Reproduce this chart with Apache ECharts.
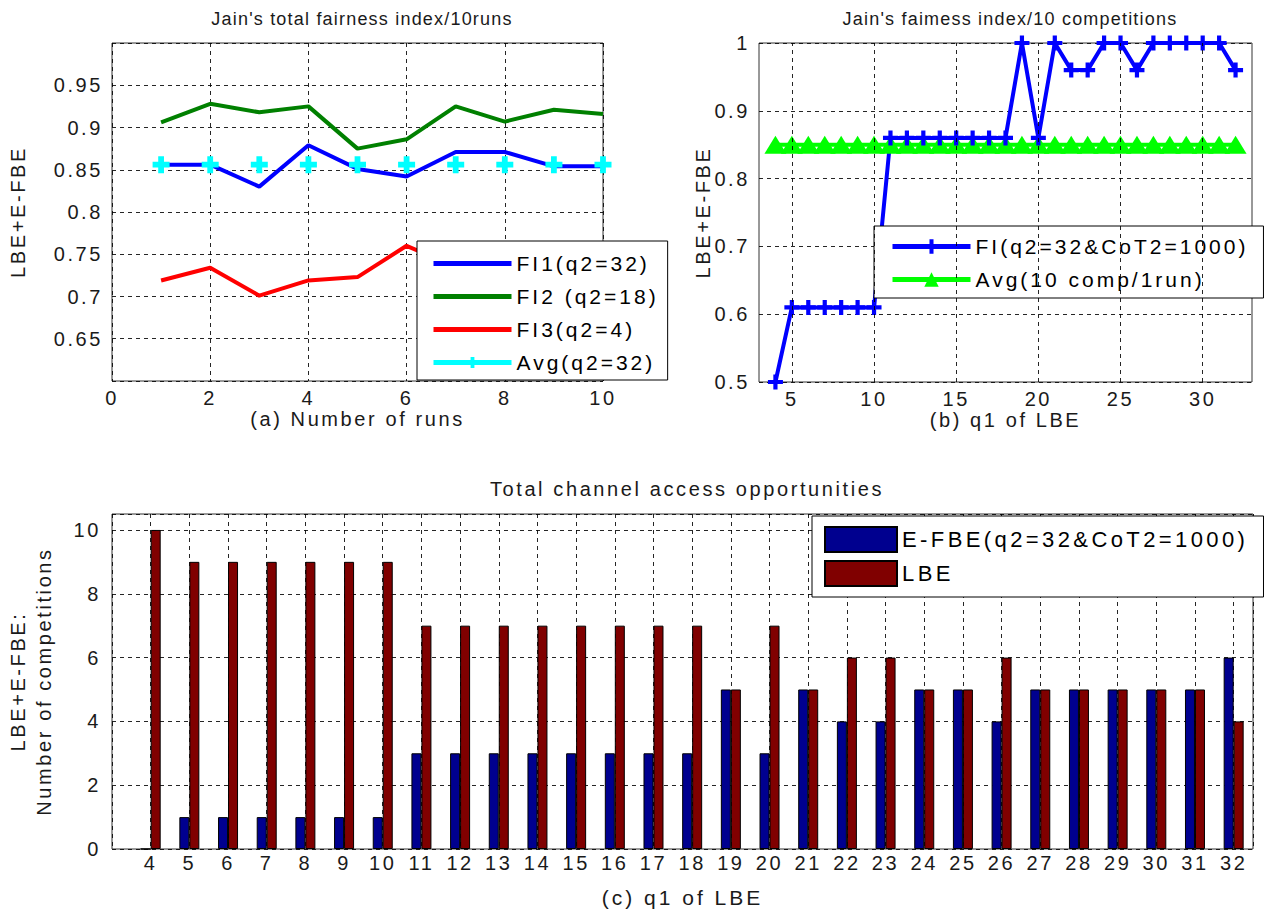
<!DOCTYPE html>
<html>
<head>
<meta charset="utf-8">
<script src="https://cdn.jsdelivr.net/npm/echarts@6/dist/echarts.min.js"></script>
<style>
html,body{margin:0;padding:0;background:#fff;}
#c{width:1266px;height:914px;}
</style>
</head>
<body>
<div id="c"></div>
<script>
// ---------- data ----------
const runs = [1,2,3,4,5,6,7,8,9,10];
const fi1 = [0.856,0.856,0.830,0.879,0.851,0.842,0.871,0.871,0.854,0.854];
const fi2 = [0.906,0.928,0.918,0.925,0.875,0.886,0.925,0.907,0.921,0.916];
const fi3 = [0.719,0.734,0.701,0.719,0.723,0.760,0.735,0.740,0.730,0.735];
const avgA = [0.856,0.856,0.856,0.856,0.856,0.856,0.856,0.856,0.856,0.856];

const q1 = [4,5,6,7,8,9,10,11,12,13,14,15,16,17,18,19,20,21,22,23,24,25,26,27,28,29,30,31,32];
const fiB = [0.5,0.61,0.61,0.61,0.61,0.61,0.61,0.86,0.86,0.86,0.86,0.86,0.86,0.86,0.86,1,0.86,1,0.96,0.96,1,1,0.96,1,1,1,1,1,0.96];
const avgB = [0.85,0.85,0.85,0.85,0.85,0.85,0.85,0.85,0.85,0.85,0.85,0.85,0.85,0.85,0.85,0.85,0.85,0.85,0.85,0.85,0.85,0.85,0.85,0.85,0.85,0.85,0.85,0.85,0.85];
const xTicksB = [5,10,15,20,25,30];

const efbe = [0,1,1,1,1,1,1,3,3,3,3,3,3,3,3,5,3,5,4,4,5,5,4,5,5,5,5,5,6];
const lbe  = [10,9,9,9,9,9,9,7,7,7,7,7,7,7,7,5,7,5,6,6,5,5,6,5,5,5,5,5,4];

// ---------- helpers ----------
const pairs = (xs, ys) => xs.map((x, i) => [x, ys[i]]);
const FONT = 'Liberation Sans';
const TXT = '#1a1a1a';
const tickFont = {fontFamily: FONT, fontSize: 20, color: TXT};
const nameFont = {fontFamily: FONT, fontSize: 20, color: TXT};
const gridLine = {show: true, lineStyle: {color: '#000', type: [4, 4], width: 1, opacity: 0.85}};
const plusPath = 'path://M3.6,0 L6.4,0 L6.4,3.6 L10,3.6 L10,6.4 L6.4,6.4 L6.4,10 L3.6,10 L3.6,6.4 L0,6.4 L0,3.6 L3.6,3.6 Z';
const starPath = 'path://M3.3,0 L6.7,0 L6.7,3.3 L10,3.3 L10,6.7 L6.7,6.7 L6.7,10 L3.3,10 L3.3,6.7 L0,6.7 L0,3.3 L3.3,3.3 Z';
const fmtNum = v => String(parseFloat(v.toFixed(2)));
const gridBase = {show: true, borderColor: '#333', borderWidth: 1, backgroundColor: '#fff', containLabel: false, outerBoundsMode: 'none'};
// letter spacing (px) by font size, to mimic the wide text of the original export
const SPACING = {18: 1.2, 20: 2.6, 21: 3.0, 22: 3.4};

const option = {
  backgroundColor: '#fff',
  animation: false,
  title: [
    {text: "Jain's total fairness index/10runs", left: 357, top: 5, textAlign: 'center',
     textStyle: {fontFamily: FONT, fontSize: 18, fontWeight: 'normal', color: TXT}},
    {text: "Jain's faimess index/10 competitions", left: 1005, top: 5, textAlign: 'center',
     textStyle: {fontFamily: FONT, fontSize: 18, fontWeight: 'normal', color: TXT}},
    {text: 'Total channel access opportunities', left: 682, top: 474, textAlign: 'center',
     textStyle: {fontFamily: FONT, fontSize: 20, fontWeight: 'normal', color: TXT}}
  ],
  grid: [
    Object.assign({left: 112, top: 43, width: 491, height: 338}, gridBase),
    Object.assign({left: 759, top: 43, width: 493, height: 339}, gridBase),
    Object.assign({left: 112, top: 514, width: 1141, height: 335}, gridBase)
  ],
  xAxis: [
    {type: 'value', gridIndex: 0, min: 0, max: 10, interval: 2,
     axisLine: {show: false}, axisTick: {show: false},
     axisLabel: Object.assign({margin: 7}, tickFont),
     splitLine: gridLine,
     name: '(a) Number of runs', nameLocation: 'middle', nameGap: 25, nameTextStyle: nameFont},
    {type: 'value', gridIndex: 1, min: 3, max: 33,
     axisLine: {show: false}, axisTick: {show: false},
     axisLabel: Object.assign({margin: 7, customValues: xTicksB}, tickFont),
     splitLine: {show: false},
     name: '(b) q1 of LBE', nameLocation: 'middle', nameGap: 25, nameTextStyle: nameFont},
    {type: 'value', gridIndex: 2, min: 3, max: 32.5, interval: 1,
     axisLine: {show: false}, axisTick: {show: false},
     axisLabel: Object.assign({margin: 4, formatter: v => (Number.isInteger(v) && v >= 4 && v <= 32) ? String(v) : ''}, tickFont),
     splitLine: gridLine,
     name: '(c) q1 of LBE', nameLocation: 'middle', nameGap: 38,
     nameTextStyle: {fontFamily: FONT, fontSize: 21, color: TXT}}
  ],
  yAxis: [
    {type: 'value', gridIndex: 0, min: 0.6, max: 1.0, interval: 0.05,
     axisLine: {show: false}, axisTick: {show: false},
     axisLabel: Object.assign({margin: 9, formatter: v => (Math.abs(v - 0.6) < 1e-9 || Math.abs(v - 1) < 1e-9) ? '' : fmtNum(v)}, tickFont),
     splitLine: gridLine,
     name: 'LBE+E-FBE', nameLocation: 'middle', nameGap: 84, nameRotate: 90, nameTextStyle: nameFont},
    {type: 'value', gridIndex: 1, min: 0.5, max: 1.0, interval: 0.1,
     axisLine: {show: false}, axisTick: {show: false},
     axisLabel: Object.assign({margin: 9, formatter: v => fmtNum(v)}, tickFont),
     splitLine: gridLine,
     name: 'LBE+E-FBE', nameLocation: 'middle', nameGap: 46, nameRotate: 90, nameTextStyle: nameFont},
    {type: 'value', gridIndex: 2, min: 0, max: 10.5, interval: 2,
     axisLine: {show: false}, axisTick: {show: false},
     axisLabel: Object.assign({margin: 11, formatter: v => (Number.isInteger(v) && v % 2 === 0) ? String(v) : ''}, tickFont),
     splitLine: gridLine,
     name: 'LBE+E-FBE:\nNumber of competitions', nameLocation: 'middle', nameGap: 55, nameRotate: 90,
     nameTextStyle: Object.assign({lineHeight: 26}, nameFont)}
  ],
  legend: [
    {show: true, left: 417, top: 241, orient: 'vertical', itemWidth: 78, itemHeight: 14, itemGap: 12,
     backgroundColor: '#fff', borderColor: '#000', borderWidth: 1, padding: [12, 42, 7, 14],
     textStyle: {fontFamily: FONT, fontSize: 21, color: '#000'},
     data: [
       {name: 'FI1(q2=32)', itemStyle: {opacity: 0}, lineStyle: {width: 5}},
       {name: 'FI2 (q2=18)', itemStyle: {opacity: 0}, lineStyle: {width: 5}},
       {name: 'FI3(q2=4)', itemStyle: {opacity: 0}, lineStyle: {width: 5}},
       {name: 'Avg(q2=32)', lineStyle: {width: 5, opacity: 1, color: '#00ffff'}}]},
    {show: true, left: 874, top: 226, orient: 'vertical', itemWidth: 78, itemHeight: 18, itemGap: 12,
     backgroundColor: '#fff', borderColor: '#000', borderWidth: 1, padding: [10, 72, 8, 16],
     textStyle: {fontFamily: FONT, fontSize: 21, color: '#000'},
     data: [{name: 'FI(q2=32&CoT2=1000)', lineStyle: {width: 5}}, {name: 'Avg(10 comp/1run)', lineStyle: {width: 5}}]},
    {show: true, left: 812, top: 516, orient: 'vertical', itemWidth: 72, itemHeight: 25, itemGap: 7,
     backgroundColor: '#fff', borderColor: '#000', borderWidth: 1, padding: [10, 90, 10, 12],
     textStyle: {fontFamily: FONT, fontSize: 22, color: '#000'},
     data: [{name: 'E-FBE(q2=32&CoT2=1000)', icon: 'rect'}, {name: 'LBE', icon: 'rect'}]}
  ],
  series: [
    {name: 'FI1(q2=32)', type: 'line', xAxisIndex: 0, yAxisIndex: 0, data: pairs(runs, fi1),
     symbol: 'none', color: '#0000ff', lineStyle: {width: 4, color: '#0000ff'}},
    {name: 'FI2 (q2=18)', type: 'line', xAxisIndex: 0, yAxisIndex: 0, data: pairs(runs, fi2),
     symbol: 'none', color: '#008000', lineStyle: {width: 4, color: '#008000'}},
    {name: 'FI3(q2=4)', type: 'line', xAxisIndex: 0, yAxisIndex: 0, data: pairs(runs, fi3),
     symbol: 'none', color: '#ff0000', lineStyle: {width: 4, color: '#ff0000'}},
    {name: 'Avg(q2=32)', type: 'line', xAxisIndex: 0, yAxisIndex: 0, data: pairs(runs, avgA),
     symbol: starPath, symbolSize: 17, showAllSymbol: true, color: '#00ffff',
     itemStyle: {color: '#00ffff'}, lineStyle: {width: 0, opacity: 0}},

    {name: 'gridB', type: 'line', xAxisIndex: 1, yAxisIndex: 1, data: [], z: 1, silent: true,
     markLine: {symbol: 'none', silent: true, animation: false, label: {show: false},
                lineStyle: {color: '#000', type: [4, 4], width: 1, opacity: 0.85},
                data: xTicksB.map(v => ({xAxis: v}))}},
    {name: 'Avg(10 comp/1run)', type: 'line', xAxisIndex: 1, yAxisIndex: 1, data: pairs(q1, avgB),
     symbol: 'triangle', symbolSize: [22, 18], showAllSymbol: true, color: '#00ff00',
     itemStyle: {color: '#00ff00'}, lineStyle: {width: 4, color: '#00ff00'}},
    {name: 'FI(q2=32&CoT2=1000)', type: 'line', xAxisIndex: 1, yAxisIndex: 1, data: pairs(q1, fiB),
     symbol: plusPath, symbolSize: 15, showAllSymbol: true, color: '#0000ff',
     itemStyle: {color: '#0000ff'}, lineStyle: {width: 4, color: '#0000ff'}},

    {name: 'E-FBE(q2=32&CoT2=1000)', type: 'bar', xAxisIndex: 2, yAxisIndex: 2, data: pairs(q1, efbe),
     barWidth: 10, barGap: '0%', color: '#00008f',
     itemStyle: {color: '#00008f', borderColor: '#000', borderWidth: 1}},
    {name: 'LBE', type: 'bar', xAxisIndex: 2, yAxisIndex: 2, data: pairs(q1, lbe),
     barWidth: 10, barGap: '0%', color: '#800000',
     itemStyle: {color: '#800000', borderColor: '#000', borderWidth: 1}}
  ]
};

const chart = echarts.init(document.getElementById('c'), null, {renderer: 'svg'});
chart.setOption(option);

function applySpacing() {
  document.querySelectorAll('#c svg text').forEach(t => {
    const fs = Math.round(parseFloat(getComputedStyle(t).fontSize));
    if (SPACING[fs] !== undefined) t.style.letterSpacing = SPACING[fs] + 'px';
  });
}
applySpacing();
chart.on('finished', applySpacing);
</script>
</body>
</html>
